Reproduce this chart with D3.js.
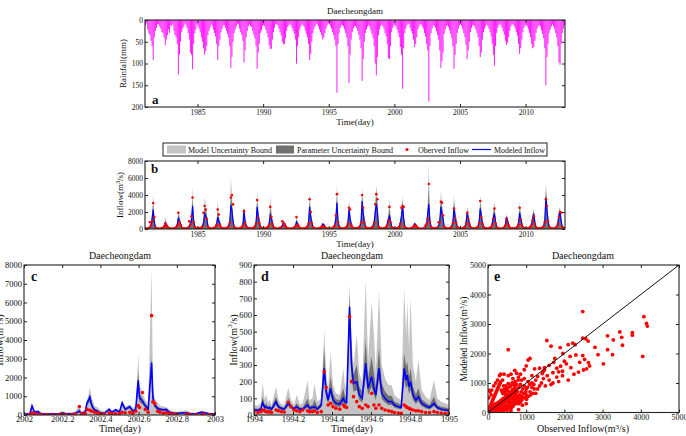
<!DOCTYPE html>
<html>
<head>
<meta charset="utf-8">
<script src="https://cdn.jsdelivr.net/npm/d3@7"></script>
<style>
body { margin: 0; background: #fff; }
svg { display: block; font-family: "Liberation Serif", "Times New Roman", serif; }
</style>
</head>
<body>
<svg id="chart" width="686" height="436"></svg>
<script>
// ---- data ----
const years = d3.range(1981, 2013);

// monthly peak daily rainfall (mm), one row per year, Jan..Dec
const rainfall = [
  [12, 8, 22, 30, 35, 48, 60, 92, 40, 25, 18, 10],
  [10, 15, 20, 28, 30, 40, 58, 45, 35, 22, 30, 12],
  [14, 10, 25, 35, 40, 55, 125, 80, 50, 28, 20, 15],
  [8, 12, 18, 30, 45, 75, 80, 113, 55, 30, 22, 10],
  [15, 20, 28, 40, 50, 65, 80, 72, 60, 35, 25, 18],
  [10, 14, 22, 30, 38, 55, 92, 60, 45, 28, 20, 12],
  [12, 18, 25, 32, 40, 60, 110, 85, 50, 30, 22, 15],
  [8, 10, 20, 28, 35, 48, 98, 70, 40, 25, 15, 10],
  [14, 16, 25, 34, 42, 60, 112, 75, 55, 30, 24, 14],
  [12, 15, 22, 30, 40, 58, 67, 66, 45, 28, 18, 10],
  [10, 12, 20, 28, 36, 50, 56, 55, 42, 25, 16, 12],
  [8, 12, 18, 25, 32, 45, 100, 60, 40, 22, 15, 10],
  [12, 16, 24, 32, 40, 55, 92, 78, 50, 30, 20, 14],
  [8, 10, 15, 22, 28, 35, 45, 40, 30, 20, 12, 8],
  [10, 14, 20, 28, 35, 45, 60, 167, 55, 30, 18, 12],
  [12, 15, 22, 30, 40, 60, 145, 80, 45, 28, 20, 14],
  [14, 18, 25, 34, 45, 65, 140, 90, 50, 30, 22, 15],
  [12, 16, 24, 32, 42, 60, 100, 127, 85, 35, 22, 14],
  [10, 14, 20, 30, 38, 55, 88, 90, 60, 28, 18, 12],
  [12, 15, 22, 30, 40, 62, 80, 158, 65, 30, 20, 12],
  [8, 10, 18, 25, 32, 45, 62, 55, 40, 22, 15, 10],
  [10, 14, 20, 30, 38, 55, 70, 188, 60, 30, 20, 12],
  [14, 18, 26, 35, 45, 70, 110, 95, 75, 32, 22, 15],
  [12, 16, 24, 32, 42, 60, 112, 80, 55, 30, 20, 12],
  [10, 14, 22, 30, 40, 58, 90, 70, 50, 28, 18, 12],
  [12, 15, 22, 30, 40, 60, 85, 75, 45, 28, 20, 14],
  [10, 14, 20, 28, 38, 55, 80, 105, 60, 30, 18, 12],
  [8, 12, 18, 26, 34, 48, 57, 52, 40, 25, 15, 10],
  [10, 14, 20, 28, 36, 55, 78, 65, 45, 28, 18, 12],
  [12, 15, 22, 30, 40, 55, 65, 62, 48, 30, 20, 14],
  [12, 16, 24, 32, 42, 65, 150, 85, 55, 30, 22, 15],
  [10, 14, 20, 30, 40, 60, 98, 103, 55, 30, 20, 12]
];

// monthly inflow peaks (m3/s), one row per year
const modeled = [
  [80,60,90,150,200,400,1200,2300,800,250,150,100],
  [70,60,80,120,150,300,700,500,300,150,100,80],
  [60,60,90,160,220,500,1300,900,600,200,120,80],
  [70,60,100,180,300,600,1000,2700,900,300,150,90],
  [80,70,110,200,300,700,1800,1500,1200,350,180,100],
  [70,60,100,180,250,600,1400,900,600,250,130,80],
  [80,70,120,220,350,800,2800,2200,900,300,160,100],
  [60,50,90,150,220,500,2300,800,400,200,110,70],
  [70,60,110,190,300,700,2600,1500,800,280,150,90],
  [80,70,100,180,280,600,1600,1300,700,250,140,90],
  [60,50,80,140,200,400,700,650,400,180,100,70],
  [60,50,80,130,180,350,800,600,350,160,100,70],
  [70,60,110,200,300,700,2600,1400,800,280,150,90],
  [50,40,70,110,150,300,600,500,300,150,90,60],
  [60,50,90,150,220,500,1200,3100,900,300,150,80],
  [70,60,100,180,280,700,2300,1200,600,250,140,90],
  [80,70,120,200,320,800,3300,1800,900,300,160,100],
  [80,70,120,220,350,800,1900,3000,2100,350,170,100],
  [70,60,100,170,250,600,1000,1600,900,260,140,90],
  [70,60,100,180,280,700,1500,2700,1200,300,150,90],
  [50,40,70,120,160,350,600,500,300,150,90,60],
  [60,50,90,150,250,600,1800,2900,900,300,150,80],
  [80,70,120,220,350,900,2600,1800,1200,350,170,100],
  [70,60,110,200,320,800,2500,1400,800,280,150,90],
  [70,60,100,180,270,700,1800,1300,700,260,140,90],
  [70,60,110,200,300,800,2400,1500,700,270,150,90],
  [70,60,100,170,260,650,1300,1800,800,260,140,90],
  [60,50,80,140,200,500,1400,900,500,200,110,70],
  [70,60,100,170,260,650,1900,1200,600,250,130,80],
  [70,60,100,170,250,600,1200,1800,700,250,130,80],
  [80,70,120,220,350,900,3700,2200,1000,320,170,100],
  [70,60,100,180,280,700,1600,2000,900,280,150,90]
];
const modelBound = [
  [200,160,250,350,450,800,2200,4100,1500,500,300,220],
  [180,150,220,300,380,600,1400,1000,600,320,220,180],
  [170,150,230,350,450,900,2300,1700,1100,400,250,190],
  [180,160,250,380,550,1100,2000,5000,1700,550,300,200],
  [200,170,270,400,550,1300,3800,2900,2200,650,330,220],
  [180,150,250,370,480,1100,3400,1700,1100,480,270,190],
  [200,170,290,430,620,1500,6100,4200,1700,560,320,220],
  [160,130,220,320,420,900,2400,1500,800,380,230,170],
  [180,160,270,390,560,1300,4400,2800,1500,520,300,200],
  [200,170,250,370,520,1100,3900,2400,1300,470,280,200],
  [160,130,200,290,380,750,1000,950,700,340,210,160],
  [160,130,200,280,350,650,1500,1100,650,310,210,160],
  [180,160,270,400,560,1300,4400,2600,1500,520,300,200],
  [130,110,180,230,290,500,700,650,500,280,190,140],
  [160,130,230,310,420,900,2300,5200,1700,550,300,190],
  [180,160,250,370,520,1300,3400,2200,1100,460,280,200],
  [200,180,290,410,600,1500,4800,3300,1700,550,320,220],
  [200,180,290,440,650,1500,3500,5200,3800,650,340,220],
  [180,160,250,350,470,1100,1900,3600,1700,480,280,200],
  [180,160,250,370,520,1300,2800,3800,2200,550,300,200],
  [130,110,180,250,310,650,800,750,550,290,190,140],
  [160,130,230,310,480,1100,3300,7800,1700,550,300,190],
  [200,180,290,440,650,1700,4500,3300,2200,650,340,220],
  [180,160,270,410,600,1500,4000,2600,1500,520,300,200],
  [180,160,250,370,500,1300,2600,2300,1300,480,280,200],
  [180,160,270,410,560,1500,4000,2700,1300,500,300,200],
  [180,160,250,350,490,1200,2400,3300,1500,480,280,200],
  [160,130,200,290,380,900,1700,1500,900,380,230,160],
  [180,160,250,350,490,1200,3200,2200,1100,460,270,190],
  [180,160,250,350,470,1100,2000,2400,1300,460,270,190],
  [200,180,290,440,650,1700,5400,3900,1800,600,340,220],
  [180,160,250,370,520,1300,2500,2400,1600,520,300,200]
];
const paramBound = [
  [110,90,130,210,280,550,1600,3000,1100,340,200,140],
  [100,90,120,170,210,420,1000,700,420,210,140,110],
  [90,90,130,220,300,680,1800,1250,820,280,170,110],
  [100,90,140,250,410,820,1400,3600,1250,410,210,130],
  [110,100,150,280,410,950,2600,2100,1650,480,250,140],
  [100,90,140,250,350,820,2100,1250,820,350,180,110],
  [110,100,170,300,480,1100,4000,3000,1250,410,220,140],
  [90,70,130,210,300,680,2350,1100,550,280,150,100],
  [100,90,150,260,410,950,3300,2050,1100,380,210,130],
  [110,100,140,250,380,820,2500,1800,950,350,190,130],
  [90,70,110,190,280,550,850,800,550,250,140,100],
  [90,70,110,180,250,480,1100,820,480,220,140,100],
  [100,90,150,280,410,950,3300,1900,1100,380,210,130],
  [70,60,100,150,210,410,650,580,410,210,130,90],
  [90,70,130,210,300,680,1650,4000,1250,410,210,110],
  [100,90,140,250,380,950,2800,1650,820,350,190,130],
  [110,100,170,280,440,1100,4000,2500,1250,410,220,140],
  [110,100,170,300,480,1100,2600,4000,2900,480,240,140],
  [100,90,140,230,350,820,1400,2500,1250,360,190,130],
  [100,90,140,250,380,950,2100,3300,1650,410,210,130],
  [70,60,100,170,220,480,700,620,410,210,130,90],
  [90,70,130,210,350,820,2500,4800,1250,410,210,110],
  [110,100,170,300,480,1250,3400,2500,1650,480,240,140],
  [100,90,150,280,440,1100,3200,1900,1100,380,210,130],
  [100,90,140,250,370,950,2200,1800,950,360,190,130],
  [100,90,150,280,410,1100,3100,2050,950,370,210,130],
  [100,90,140,230,360,900,1800,2500,1100,360,190,130],
  [90,70,110,190,280,680,1550,1200,680,280,150,100],
  [100,90,140,230,360,900,2500,1650,820,350,180,110],
  [100,90,140,230,350,820,1600,2100,950,350,180,110],
  [110,100,170,300,480,1250,4500,3000,1400,440,240,140],
  [100,90,140,250,380,950,2100,2250,1250,380,210,130]
];
const observed = [
  [40,30,60,120,800,400,900,3050,1400,150,80,50],
  [30,25,50,90,120,250,600,400,220,100,60,40],
  [30,30,60,120,180,400,1900,800,500,150,80,50],
  [40,30,70,140,900,500,1500,3700,800,250,100,60],
  [40,40,80,150,250,1900,2700,2300,1200,300,120,60],
  [40,30,70,140,200,500,2300,1700,500,200,90,50],
  [50,40,90,170,300,700,3700,4000,2900,250,110,60],
  [30,25,60,110,180,400,2100,700,300,150,70,40],
  [40,30,80,140,250,600,3400,1300,700,220,100,50],
  [50,40,70,140,220,500,2600,1400,600,200,90,50],
  [30,25,50,100,160,900,600,550,300,130,70,40],
  [30,25,50,100,140,300,1400,500,280,120,60,40],
  [40,30,80,150,250,600,3500,2000,700,220,100,50],
  [25,20,40,80,120,250,300,250,200,100,50,30],
  [30,25,60,110,180,400,1600,4100,800,220,100,40],
  [40,30,70,140,220,600,2500,2300,500,200,90,50],
  [50,40,90,150,260,700,4000,2500,800,250,110,60],
  [50,40,90,170,300,700,2900,4100,3500,300,120,60],
  [40,30,70,120,200,500,1000,2600,800,200,90,50],
  [40,30,70,140,220,600,2500,2700,2600,250,100,50],
  [25,20,40,90,130,300,400,350,250,100,50,30],
  [30,25,60,110,400,600,1200,5300,800,250,100,40],
  [50,40,90,170,800,800,3200,3100,1600,300,120,60],
  [40,30,80,150,260,700,2400,1300,700,220,100,50],
  [40,30,70,140,220,600,1900,1200,600,200,90,50],
  [40,30,80,150,250,700,3300,1400,600,220,100,50],
  [40,30,70,130,210,500,1200,2400,700,200,90,50],
  [30,25,50,100,160,400,1200,800,400,150,70,40],
  [40,30,70,130,210,550,2500,1100,500,200,80,40],
  [40,30,70,130,200,500,1000,1500,600,200,80,40],
  [50,40,90,170,300,800,3500,2700,900,260,110,60],
  [40,30,70,140,220,600,1400,2000,1900,230,100,50]
];

// 2002 detail (fraction of year)
const cTime      = [0,.03,.042,.055,.073,.09,.12,.15,.18,.2,.22,.25,.27,.29,.3,.32,.33,.345,.355,.37,.385,.4,.42,.446,.46,.48,.5,.514,.53,.554,.57,.585,.598,.605,.62,.635,.65,.668,.675,.685,.7,.712,.73,.745,.76,.78,.8,.85,.87,.9,.93,.945,.97,1];
const cModelUp   = [120,130,600,250,280,130,110,120,110,220,130,150,200,550,200,300,750,1450,900,500,400,250,200,420,250,350,300,720,450,560,380,500,3200,1600,1200,800,600,7800,1500,900,650,500,450,420,300,220,180,250,150,130,230,200,120,100];
const cParamUp   = [80,85,540,190,220,90,75,85,75,150,90,95,130,330,120,200,700,1100,650,350,280,160,120,350,170,310,200,680,360,500,270,380,2300,1150,900,600,420,3100,1100,650,460,380,340,350,200,150,120,170,100,90,180,150,80,70];
const cParamLow  = [35,35,380,110,130,45,35,45,35,75,45,45,65,150,60,110,520,700,380,190,150,75,60,230,90,210,110,520,230,350,150,230,1400,680,560,380,230,2100,680,380,260,230,210,230,110,75,60,90,50,45,110,90,45,35];
const cModeled   = [50,50,480,150,180,60,50,60,50,100,60,60,90,200,80,150,650,950,500,250,200,100,80,300,120,280,150,650,300,450,200,300,1850,900,750,500,300,2800,900,500,350,300,280,300,150,100,80,120,70,60,150,120,60,50];
const cObserved  = [30,20,100,60,40,30,20,30,20,40,30,30,50,450,60,80,300,250,200,150,100,60,50,100,60,80,70,150,120,150,100,200,500,400,1200,300,150,5300,700,600,200,150,100,120,80,60,40,50,30,25,40,30,20,20];

// 1994 detail (fraction of year)
const dTime      = [0,.02,.035,.044,.055,.062,.072,.08,.09,.113,.125,.14,.155,.176,.19,.205,.219,.235,.25,.275,.285,.3,.31,.325,.345,.36,.37,.38,.393,.405,.42,.44,.458,.465,.475,.49,.5,.51,.527,.54,.555,.573,.585,.603,.615,.625,.641,.655,.672,.69,.706,.72,.74,.755,.77,.78,.786,.795,.803,.815,.83,.843,.86,.88,.9,.923,.94,.96,.98,1];
const dModelUp   = [60,55,70,195,90,125,75,95,60,170,90,65,60,165,90,60,120,65,70,205,90,100,190,80,100,510,250,160,380,180,130,120,280,190,150,780,450,300,480,250,200,810,320,680,480,260,750,300,220,180,180,120,100,90,760,480,680,400,700,300,200,330,150,110,90,210,100,80,70,60];
const dParamUp   = [40,38,45,110,60,70,50,60,45,110,65,50,45,100,65,45,70,45,45,100,55,60,90,50,75,400,190,120,230,130,95,90,160,120,100,720,380,240,300,170,140,450,220,350,250,170,400,190,140,115,115,80,70,60,370,290,320,230,280,170,125,160,95,75,60,110,60,50,45,40];
const dParamLow  = [22,20,26,55,33,37,30,33,26,60,37,30,26,52,37,28,37,26,26,45,30,33,37,26,45,210,105,68,120,68,52,48,75,60,56,490,225,140,150,90,75,230,120,170,120,90,210,98,75,60,60,45,37,33,210,160,180,128,150,90,68,82,52,41,33,52,33,26,22,18];
const dModeled   = [30,28,35,75,45,50,40,45,35,80,50,40,35,70,50,38,50,35,35,60,40,45,50,35,60,280,140,90,160,90,70,65,100,80,75,650,300,190,200,120,100,310,160,230,160,120,280,130,100,80,80,60,50,45,280,210,240,170,200,120,90,110,70,55,45,70,45,35,30,25];
const dObserved  = [20,15,20,30,25,20,18,20,15,30,25,20,18,75,50,30,25,20,30,25,20,20,25,15,20,260,165,60,70,50,40,35,60,50,45,590,200,110,80,50,40,60,50,130,60,40,60,40,30,25,20,15,12,10,60,50,45,40,35,30,25,25,20,15,15,20,15,12,10,10];

// observed vs modeled (m3/s)
const scatterPts = [
  [2480,3420],[530,2130],[4080,3250],[4150,3020],[4170,2930],[4050,1900],[3780,2710],[3780,2620],
  [3450,2730],[3500,2550],[3520,2280],[3280,2460],[3130,2600],[3130,2130],[3260,1960],[3020,1650],
  [2880,1960],[2800,2210],[2620,2420],[2480,2520],[2560,2500],[2220,2350],[2280,2300],[2100,2300],
  [1890,2200],[1960,2000],[1540,2440],[1650,2250],[2480,1930],[2530,1800],[2630,1690],[2660,1580],
  [2580,1480],[2370,1370],[2250,1300],[2170,1520],[2500,1440],[2000,1740],[1900,1570],[1850,1380],
  [1720,1700],[1750,1830],[1600,1600],[1480,1450],[1420,1320],[1300,1220],[1220,1480],[1100,1830],
  [1050,1780],[1000,1580],[950,1450],[700,1430],[750,1330],[600,1300],[530,1250],[420,1300],
  [380,1100],[880,1100],[1400,1000],[1500,900],[1600,1100],[1700,1000],[1800,1200],[1950,1250],
  [2100,1100],[1300,800],[1200,950],[1100,700],[1000,600],[900,500],[800,400],[700,300],[650,200],
  [1000,300],[1480,1520],[1450,1400],[1350,1500],[1150,1250],[1250,1100],[1050,1050],[950,1150],
  [850,1300],[800,1200],[650,1150],[1350,900],[1150,850],[1450,1150],[1550,1250],[1700,1350],
  [1800,1500],[2050,1650],[2150,1900],[2300,1950],[2400,1700],[1950,1400],[1650,950],[1850,1050],
  [1250,650],[900,250],[800,100],[600,50],[700,600],[1000,800],[40,750],[60,700],[20,500],[80,600],
  [100,760],[150,900],[200,1000],[250,1100],[300,1250],[330,1300],[400,30],[500,80],[600,120],
  [20,30],[40,80],[60,40],[80,120],[100,60],[120,180],[140,90],[160,250],[180,130],[200,60],
  [220,300],[240,170],[260,90],[280,350],[300,220],[320,120],[340,420],[360,260],[380,160],
  [400,480],[420,320],[440,200],[460,560],[480,380],[500,250],[520,620],[540,430],[560,300],
  [580,700],[600,500],[620,350],[640,780],[660,560],[680,400],[700,850],[720,620],[740,450],
  [30,150],[50,200],[70,260],[90,320],[110,380],[130,440],[150,500],[170,560],[190,620],[210,680],
  [230,740],[250,800],[270,860],[290,920],[310,980],[330,1040],[350,760],[370,700],[390,640],
  [410,900],[430,780],[450,680],[470,900],[490,820],[510,740],[530,980],[550,860],[570,600],
  [590,900],[610,650],[630,1000],[650,700],[670,950],[690,750],[710,1050],[730,800],[750,950],
  [770,700],[790,1100],[810,850],[830,600],[850,950],[870,700],[890,550],[910,800],[930,650],
  [950,900],[970,500],[990,700],[1010,450],[1030,850],[1060,550],[1090,950],[1120,600],[1150,1000],
  [1180,650],[1210,800],[10,10],[25,60],[45,20],[65,100],[85,30],[105,140],[125,40],[145,200],
  [165,50],[185,280],[205,140],[225,40],[245,230],[265,330],[285,150],[305,60],[325,270],[345,360],
  [365,100],[385,300],[405,400],[425,110],[445,330],[465,450],[485,150],[505,380],[525,520],
  [545,180],[565,420],[585,560],[605,220],[625,470],[645,610],[665,260],[685,500],[705,640],
  [725,300],[745,560],[765,380],[785,520],[805,300],[825,450],[845,350],[865,500],[885,420]
];

const yearTicks = [1985, 1990, 1995, 2000, 2005, 2010];
const title = 'Daecheongdam';

// ---- drawing ----
const svg = d3.select('#chart');
const C = { light: '#c4c4c4', dark: '#707070', blue: '#0000ff', red: '#ff0000', rain: '#ff00ff' };
let clipId = 0;

function monthly(rows) {
  const out = [];
  rows.forEach((row, i) => row.forEach((v, m) => out.push({ t: years[i] + (m + 0.5) / 12, v })));
  return out;
}

function clipFor(x, y) {
  const id = 'clip' + (clipId++);
  const [l, r] = x.range();
  const top = Math.min(...y.range()), bot = Math.max(...y.range());
  svg.append('clipPath').attr('id', id).append('rect')
    .attr('x', l).attr('y', top).attr('width', r - l).attr('height', bot - top);
  return svg.append('g').attr('clip-path', `url(#${id})`);
}

function frame(x, y, xTicks, yTicks, xFmt, fs, pad = 3) {
  const [l, r] = x.range();
  const top = Math.min(...y.range()), bot = Math.max(...y.range());
  const g = svg.append('g');
  const fix = s => s.attr('font-family', null).attr('font-size', fs);
  g.append('g').attr('transform', `translate(0,${bot})`)
    .call(d3.axisBottom(x).tickValues(xTicks).tickFormat(xFmt).tickSizeInner(-3).tickSizeOuter(0).tickPadding(pad)).call(fix);
  g.append('g').attr('transform', `translate(0,${top})`)
    .call(d3.axisTop(x).tickValues(xTicks).tickFormat('').tickSizeInner(-3).tickSizeOuter(0));
  g.append('g').attr('transform', `translate(${l},0)`)
    .call(d3.axisLeft(y).tickValues(yTicks).tickFormat(d3.format('d')).tickSizeInner(-3).tickSizeOuter(0).tickPadding(2)).call(fix);
  g.append('g').attr('transform', `translate(${r},0)`)
    .call(d3.axisRight(y).tickValues(yTicks).tickFormat('').tickSizeInner(-3).tickSizeOuter(0));
  g.selectAll('.domain').remove();
  g.selectAll('.tick line').attr('stroke', '#222');
  g.selectAll('.tick text').attr('fill', '#111');
  g.append('rect')
    .attr('x', l).attr('y', top).attr('width', r - l).attr('height', bot - top)
    .attr('fill', 'none').attr('stroke', '#222').attr('stroke-width', 1.1);
}

function text(x, y, str, fs, opts = {}) {
  const t = svg.append('text')
    .attr('x', x).attr('y', y)
    .attr('font-size', fs)
    .attr('text-anchor', opts.anchor || 'middle')
    .attr('font-weight', opts.bold ? 'bold' : null)
    .attr('fill', '#111');
  if (opts.rotate) t.attr('transform', `rotate(-90,${x},${y})`).attr('dominant-baseline', 'central');
  return t.text(str);
}

function unitLabel(x, y, prefix, fs, rotate) {
  const t = svg.append('text')
    .attr('x', x).attr('y', y)
    .attr('font-size', fs)
    .attr('text-anchor', 'middle')
    .attr('fill', '#111');
  if (rotate) t.attr('transform', `rotate(-90,${x},${y})`).attr('dominant-baseline', 'central');
  t.append('tspan').text(prefix + '(m');
  t.append('tspan').attr('font-size', fs * 0.7).attr('dy', -fs * 0.35).text('3');
  t.append('tspan').attr('dy', fs * 0.35).text('/s)');
}

function bandPanel(x, y, series, r, blueW) {
  const g = clipFor(x, y);
  g.append('path').datum(series)
    .attr('d', d3.area().x(d => x(d.t)).y0(y(0)).y1(d => y(d.up)))
    .attr('fill', C.light);
  g.append('path').datum(series)
    .attr('d', d3.area().x(d => x(d.t)).y0(d => y(d.lo || 0)).y1(d => y(d.par)))
    .attr('fill', C.dark);
  g.append('path').datum(series)
    .attr('d', d3.line().x(d => x(d.t)).y(d => y(d.mod)))
    .attr('fill', 'none').attr('stroke', C.blue).attr('stroke-width', blueW);
  g.selectAll('circle.obs').data(series).enter().append('circle')
    .attr('class', 'obs')
    .attr('cx', d => x(d.t)).attr('cy', d => y(d.obs))
    .attr('r', r).attr('fill', C.red);
}

// panel a: rainfall
{
  const x = d3.scaleLinear().domain([1981, 2013]).range([145, 565]);
  const y = d3.scaleLinear().domain([0, 200]).range([20, 107]);
  const g = clipFor(x, y);
  g.selectAll('line').data(monthly(rainfall)).enter().append('line')
    .attr('x1', d => x(d.t)).attr('x2', d => x(d.t))
    .attr('y1', y(0)).attr('y2', d => y(d.v))
    .attr('stroke', C.rain).attr('stroke-width', 0.9);
  frame(x, y, yearTicks, [0, 50, 100, 150, 200], d3.format('d'), 7.5);
  text(355, 14, title, 9);
  text(123, 63.5, 'Rainfall(mm)', 9, { rotate: true });
  text(355, 125, 'Time(day)', 9);
  text(152, 104, 'a', 13, { anchor: 'start', bold: true });
}

// panel b: inflow full record
{
  const x = d3.scaleLinear().domain([1981, 2013]).range([145, 565]);
  const y = d3.scaleLinear().domain([0, 8000]).range([229, 161]);
  const mod = monthly(modeled), up = monthly(modelBound), par = monthly(paramBound), obs = monthly(observed);
  const series = mod.map((d, i) => ({ t: d.t, mod: d.v, up: up[i].v, par: par[i].v, obs: obs[i].v }));
  bandPanel(x, y, series, 1.3, 1.2);
  frame(x, y, yearTicks, [0, 2000, 4000, 6000, 8000], d3.format('d'), 7.5);
  unitLabel(120, 195, 'Inflow', 9, true);
  text(355, 247, 'Time(day)', 9);
  text(151, 173, 'b', 13, { anchor: 'start', bold: true });

  // legend
  const lg = svg.append('g');
  lg.append('rect').attr('x', 163).attr('y', 143).attr('width', 384).attr('height', 13)
    .attr('fill', '#fff').attr('stroke', '#222');
  lg.append('rect').attr('x', 167).attr('y', 145.5).attr('width', 19).attr('height', 8).attr('fill', C.light);
  lg.append('rect').attr('x', 276).attr('y', 145.5).attr('width', 18).attr('height', 8).attr('fill', C.dark);
  lg.append('circle').attr('cx', 407).attr('cy', 149.5).attr('r', 1.5).attr('fill', C.red);
  lg.append('line').attr('x1', 472).attr('x2', 491).attr('y1', 149.5).attr('y2', 149.5)
    .attr('stroke', C.blue).attr('stroke-width', 1.2);
  [[188, 'Model Uncertainty Bound', 84], [297, 'Parameter Uncertainty Bound', 96],
   [418, 'Oberved Inflow', 51], [494, 'Modeled Inflow', 51]].forEach(([lx, s, w]) => {
    lg.append('text').attr('x', lx).attr('y', 152.5).attr('font-size', 8.3).attr('fill', '#111')
      .attr('textLength', w).attr('lengthAdjust', 'spacingAndGlyphs').text(s);
  });
}

// panel c: 2002
{
  const x = d3.scaleLinear().domain([2002, 2003]).range([24, 215]);
  const y = d3.scaleLinear().domain([0, 8000]).range([415, 265]);
  const series = cTime.map((t, i) => ({ t: 2002 + t, up: cModelUp[i], par: cParamUp[i], lo: cParamLow[i], mod: cModeled[i], obs: cObserved[i] }));
  bandPanel(x, y, series, 1.8, 1.6);
  frame(x, y, [2002, 2002.2, 2002.4, 2002.6, 2002.8, 2003], d3.range(0, 8001, 1000),
    d => String(+d.toFixed(1)), 8.5, 1);
  text(120, 259, title, 10);
  unitLabel(-1, 340, 'Inflow', 10, true);
  text(120, 432, 'Time(day)', 10);
  text(31, 281, 'c', 14, { anchor: 'start', bold: true });
}

// panel d: 1994
{
  const x = d3.scaleLinear().domain([1994, 1995]).range([254, 449]);
  const y = d3.scaleLinear().domain([0, 900]).range([415, 265]);
  const series = dTime.map((t, i) => ({ t: 1994 + t, up: dModelUp[i], par: dParamUp[i], lo: dParamLow[i], mod: dModeled[i], obs: dObserved[i] }));
  bandPanel(x, y, series, 1.8, 1.6);
  frame(x, y, [1994, 1994.2, 1994.4, 1994.6, 1994.8, 1995], d3.range(0, 901, 100),
    d => String(+d.toFixed(1)), 8.5, 1);
  text(352, 259, title, 10);
  unitLabel(233, 340, 'Inflow', 10, true);
  text(352, 432, 'Time(day)', 10);
  text(261, 281, 'd', 14, { anchor: 'start', bold: true });
}

// panel e: scatter
{
  const x = d3.scaleLinear().domain([0, 5000]).range([488, 679]);
  const y = d3.scaleLinear().domain([0, 5000]).range([412.5, 265]);
  const g = clipFor(x, y);
  g.selectAll('circle').data(scatterPts).enter().append('circle')
    .attr('cx', d => x(d[0])).attr('cy', d => y(d[1]))
    .attr('r', 1.9).attr('fill', C.red);
  g.append('line')
    .attr('x1', x(0)).attr('y1', y(0)).attr('x2', x(5000)).attr('y2', y(5000))
    .attr('stroke', '#111').attr('stroke-width', 1);
  const ticks = [0, 1000, 2000, 3000, 4000, 5000];
  frame(x, y, ticks, ticks, d3.format('d'), 8, 2);
  text(583, 259, title, 10);
  unitLabel(464, 339, 'Modeled Inflow', 9.5, true);
  unitLabel(583, 432, 'Observed Inflow', 10, false);
  text(494, 281, 'e', 14, { anchor: 'start', bold: true });
}
</script>
</body>
</html>
